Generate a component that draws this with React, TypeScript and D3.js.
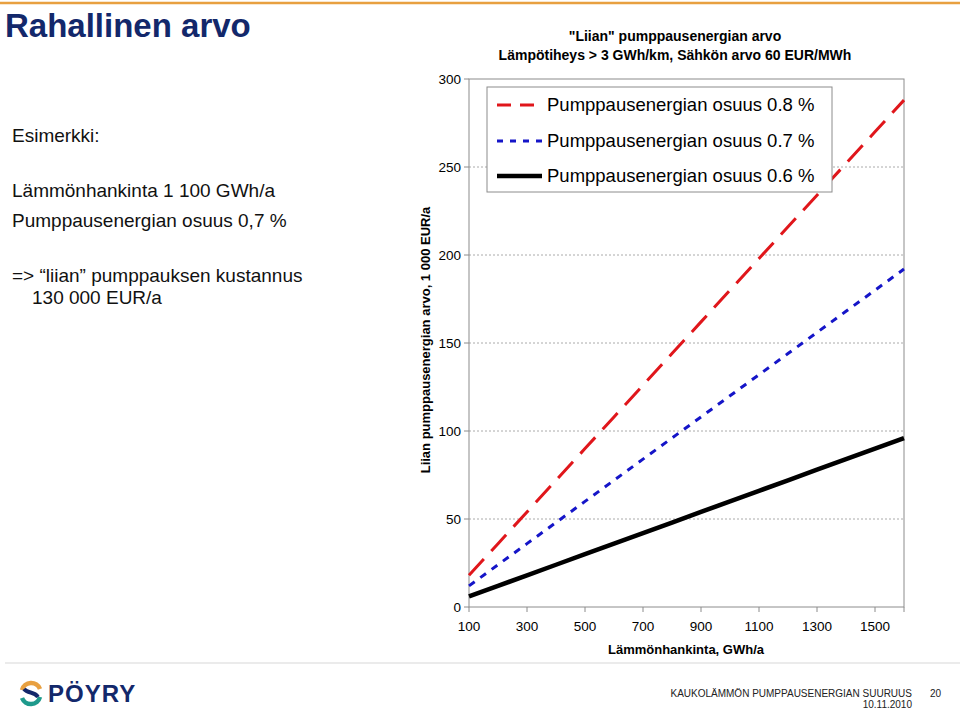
import React from "react";
import * as d3 from "d3";

const xValues = [100, 200, 300, 400, 500, 600, 700, 800, 900, 1000, 1100, 1200, 1300, 1400, 1500, 1600];
const share08 = [18, 36, 54, 72, 90, 108, 126, 144, 162, 180, 198, 216, 234, 252, 270, 288];
const share07 = [12, 24, 36, 48, 60, 72, 84, 96, 108, 120, 132, 144, 156, 168, 180, 192];
const share06 = [6, 12, 18, 24, 30, 36, 42, 48, 54, 60, 66, 72, 78, 84, 90, 96];
const xTicks = [100, 300, 500, 700, 900, 1100, 1300, 1500];
const yTicks = [0, 50, 100, 150, 200, 250, 300];
const seriesLabels = ["Pumppausenergian osuus 0.8 %", "Pumppausenergian osuus 0.7 %", "Pumppausenergian osuus 0.6 %"];

const FONT = "Liberation Sans, Arial, Helvetica, sans-serif";

export default function App() {
  const left = 469, right = 904, top = 79, bottom = 607;
  const x = d3.scaleLinear().domain([100, 1600]).range([left, right]);
  const y = d3.scaleLinear().domain([0, 300]).range([bottom, top]);
  const line = d3.line<[number, number]>().x(d => x(d[0])).y(d => y(d[1]));
  const series = [
    { vals: share08, color: "#E0161B", width: 3, dash: "22,11" },
    { vals: share07, color: "#1515C8", width: 3, dash: "7,7" },
    { vals: share06, color: "#000000", width: 4.5, dash: null as string | null },
  ];
  const legendY = [105, 141, 176];
  return (
    <svg width={960} height={711} style={{ position: "absolute", left: 0, top: 0, background: "#fff" }}>
      <rect x={0} y={0} width={960} height={711} fill="#fff" />
      <line x1={0} x2={960} y1={3} y2={3} stroke="#E8A040" strokeWidth={2.5} />
      <text x={5} y={37} fontFamily={FONT} fontWeight="bold" fontSize={33} fill="#13286B">Rahallinen arvo</text>

      <g fontFamily={FONT} fontSize={19} fill="#111">
        <text x={12} y={142}>Esimerkki:</text>
        <text x={12} y={197}>Lämmönhankinta 1 100 GWh/a</text>
        <text x={12} y={227}>Pumppausenergian osuus 0,7 %</text>
        <text x={12} y={282}>=&gt; “liian” pumppauksen kustannus</text>
        <text x={32} y={304}>130 000 EUR/a</text>
      </g>

      <g fontFamily={FONT} fontWeight="bold" fontSize={14} fill="#000" textAnchor="middle">
        <text x={675} y={41}>"Liian" pumppausenergian arvo</text>
        <text x={675} y={60}>Lämpötiheys &gt; 3 GWh/km, Sähkön arvo 60 EUR/MWh</text>
      </g>
      <g fontFamily={FONT} fontWeight="bold" fontSize={13} fill="#000" textAnchor="middle">
        <text x={686} y={654}>Lämmönhankinta, GWh/a</text>
        <text transform={`translate(430,340) rotate(-90)`}>Liian pumppausenergian arvo, 1 000 EUR/a</text>
      </g>

      {yTicks.filter(t => t > 0 && t < 300).map(t => (
        <line key={t} x1={left} x2={right} y1={y(t)} y2={y(t)} stroke="#aaa" strokeWidth={1} strokeDasharray="2,2" />
      ))}
      <rect x={left} y={top} width={right - left} height={bottom - top} fill="none" stroke="#8c8c8c" strokeWidth={1} />
      {yTicks.map(t => (
        <g key={t}>
          <line x1={left - 5} x2={left} y1={y(t)} y2={y(t)} stroke="#8c8c8c" />
          <text x={left - 8} y={y(t) + 5} textAnchor="end" fontFamily={FONT} fontSize={13.5} fill="#000">{t}</text>
        </g>
      ))}
      {xTicks.map(t => (
        <g key={t}>
          <line x1={x(t)} x2={x(t)} y1={bottom} y2={bottom + 5} stroke="#8c8c8c" />
          <text x={x(t)} y={bottom + 24} textAnchor="middle" fontFamily={FONT} fontSize={13.5} fill="#000">{t}</text>
        </g>
      ))}
      <line x1={right} x2={right} y1={bottom} y2={bottom + 5} stroke="#8c8c8c" />

      {series.map((s, i) => (
        <path key={i} d={line(xValues.map((v, j) => [v, s.vals[j]] as [number, number])) || ""} fill="none"
          stroke={s.color} strokeWidth={s.width} strokeDasharray={s.dash || undefined} />
      ))}

      <rect x={487} y={87} width={345} height={105} fill="#fff" stroke="#8c8c8c" strokeWidth={1} />
      {series.map((s, i) => (
        <g key={i}>
          <line x1={497} x2={542} y1={legendY[i]} y2={legendY[i]} stroke={s.color} strokeWidth={s.width}
            strokeDasharray={i === 0 ? "14,9" : i === 1 ? "6,7" : undefined} />
          <text x={547} y={legendY[i] + 6} fontFamily={FONT} fontSize={18.5} fill="#000">{seriesLabels[i]}</text>
        </g>
      ))}

      <line x1={5} x2={960} y1={663} y2={663} stroke="#e4e4e4" strokeWidth={1.5} />
      <g>
        <path d="M 40 689 A 9.5 9.5 0 0 0 22 690" fill="none" stroke="#E8A040" strokeWidth={4.5} />
        <path d="M 22 698 A 9.5 9.5 0 0 0 40 697" fill="none" stroke="#1E9A8C" strokeWidth={4.5} />
        <path d="M 24 689 C 28 694, 34 691, 38 697" fill="none" stroke="#13286B" strokeWidth={4} />
        <text x={48} y={702} fontFamily={FONT} fontWeight="bold" fontSize={24} letterSpacing={1} fill="#13286B">PÖYRY</text>
      </g>
      <g fontFamily={FONT} fontSize={10} fill="#222">
        <text x={912} y={697} textAnchor="end">KAUKOLÄMMÖN PUMPPAUSENERGIAN SUURUUS</text>
        <text x={912} y={708} textAnchor="end">10.11.2010</text>
        <text x={930} y={697}>20</text>
      </g>
    </svg>
  );
}
